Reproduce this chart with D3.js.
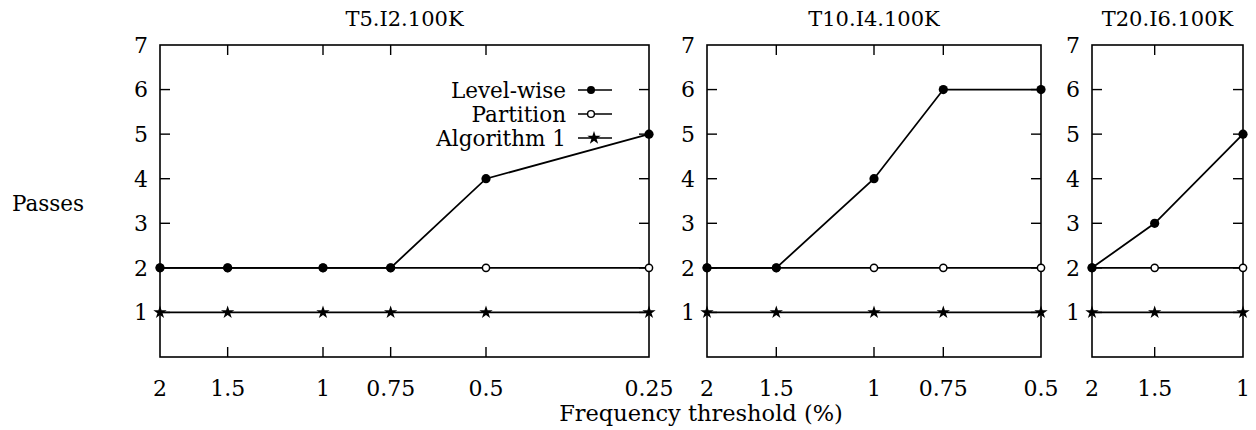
<!DOCTYPE html>
<html>
<head>
<meta charset="utf-8">
<script src="https://cdn.jsdelivr.net/npm/d3@7"></script>
<style>
  body { margin: 0; background: #fff; }
  text { font-family: 'DejaVu Serif', serif; fill: #000; }
</style>
</head>
<body>
<div id="wrapper"></div>
<script>
const seriesNames = ['Level-wise', 'Partition', 'Algorithm 1']
const panelTitles = ['T5.I2.100K', 'T10.I4.100K', 'T20.I6.100K']

const thresholds1 = [2, 1.5, 1, 0.75, 0.5, 0.25]
const levelwise1 = [2, 2, 2, 2, 4, 5]
const partition1 = [2, 2, 2, 2, 2, 2]
const algorithm1 = [1, 1, 1, 1, 1, 1]

const thresholds2 = [2, 1.5, 1, 0.75, 0.5]
const levelwise2 = [2, 2, 4, 6, 6]
const partition2 = [2, 2, 2, 2, 2]
const algorithm2 = [1, 1, 1, 1, 1]

const thresholds3 = [2, 1.5, 1]
const levelwise3 = [2, 3, 5]
const partition3 = [2, 2, 2]
const algorithm3 = [1, 1, 1]

const yTicks = [1, 2, 3, 4, 5, 6, 7]

const panels = [
    { title: panelTitles[0], x: thresholds1, lw: levelwise1, pa: partition1, al: algorithm1, left: 160, right: 649 },
    { title: panelTitles[1], x: thresholds2, lw: levelwise2, pa: partition2, al: algorithm2, left: 707, right: 1041 },
    { title: panelTitles[2], x: thresholds3, lw: levelwise3, pa: partition3, al: algorithm3, left: 1092, right: 1243 }
]

const dimensions = { width: 1256, height: 430, top: 45, bottom: 357 }
const tickLen = 10

const svg = d3.select('#wrapper')
    .append('svg')
    .attr('width', dimensions.width)
    .attr('height', dimensions.height)

const yScale = d3.scaleLinear()
    .domain([0, 7])
    .range([dimensions.bottom, dimensions.top])

const star = d3.symbol().type(d3.symbolStar).size(55)

panels.forEach((p, pi) => {
    const xScale = d3.scaleLog()
        .domain([p.x[0], p.x[p.x.length - 1]])
        .range([p.left, p.right])

    const g = svg.append('g')

    // frame
    g.append('rect')
        .attr('x', p.left).attr('y', dimensions.top)
        .attr('width', p.right - p.left)
        .attr('height', dimensions.bottom - dimensions.top)
        .attr('fill', 'none').attr('stroke', '#000').attr('stroke-width', 1.6)

    // inner x ticks top and bottom
    const inner = p.x.slice(1, -1)
    g.append('g').selectAll('line').data(inner).join('line')
        .attr('x1', d => xScale(d)).attr('x2', d => xScale(d))
        .attr('y1', dimensions.bottom).attr('y2', dimensions.bottom - tickLen)
        .attr('stroke', '#000').attr('stroke-width', 1.4)
    g.append('g').selectAll('line').data(inner).join('line')
        .attr('x1', d => xScale(d)).attr('x2', d => xScale(d))
        .attr('y1', dimensions.top).attr('y2', dimensions.top + tickLen)
        .attr('stroke', '#000').attr('stroke-width', 1.4)

    // y ticks left and right
    const ys = yTicks.slice(0, -1)
    g.append('g').selectAll('line').data(ys).join('line')
        .attr('x1', p.left).attr('x2', p.left + tickLen)
        .attr('y1', d => yScale(d)).attr('y2', d => yScale(d))
        .attr('stroke', '#000').attr('stroke-width', 1.4)
    g.append('g').selectAll('line').data(ys).join('line')
        .attr('x1', p.right).attr('x2', p.right - tickLen)
        .attr('y1', d => yScale(d)).attr('y2', d => yScale(d))
        .attr('stroke', '#000').attr('stroke-width', 1.4)

    // tick labels
    g.append('g').selectAll('text').data(yTicks).join('text')
        .attr('x', p.left - 12)
        .attr('y', d => yScale(d))
        .attr('dy', '0.36em')
        .attr('text-anchor', 'end')
        .style('font-size', '22px')
        .text(d => d)
    g.append('g').selectAll('text').data(p.x).join('text')
        .attr('x', d => xScale(d))
        .attr('y', 396)
        .attr('text-anchor', 'middle')
        .style('font-size', '22px')
        .text(d => d)

    g.append('text')
        .attr('x', (p.left + p.right) / 2)
        .attr('y', 26)
        .attr('text-anchor', 'middle')
        .style('font-size', '21px')
        .text(p.title)

    const pts = arr => p.x.map((x, i) => [x, arr[i]])
    const line = d3.line().x(d => xScale(d[0])).y(d => yScale(d[1]))

    ;[p.al, p.pa, p.lw].forEach(arr => {
        g.append('path')
            .attr('d', line(pts(arr)))
            .attr('fill', 'none').attr('stroke', '#000').attr('stroke-width', 1.8)
    })

    g.append('g').selectAll('path').data(pts(p.al)).join('path')
        .attr('transform', d => `translate(${xScale(d[0])},${yScale(d[1])})`)
        .attr('d', star).attr('fill', '#000')

    g.append('g').selectAll('circle').data(pts(p.pa)).join('circle')
        .attr('cx', d => xScale(d[0])).attr('cy', d => yScale(d[1]))
        .attr('r', 3.6).attr('fill', '#fff').attr('stroke', '#000').attr('stroke-width', 1.5)

    g.append('g').selectAll('circle').data(pts(p.lw)).join('circle')
        .attr('cx', d => xScale(d[0])).attr('cy', d => yScale(d[1]))
        .attr('r', 4.6).attr('fill', '#000')

    // legend in first panel
    if (pi === 0) {
        const legendY = [90, 114, 138]
        const leg = g.append('g')
        seriesNames.forEach((name, i) => {
            const yy = legendY[i]
            leg.append('text')
                .attr('x', 566).attr('y', yy)
                .attr('dy', '0.36em')
                .attr('text-anchor', 'end')
                .style('font-size', '21.5px')
                .text(name)
            leg.append('line')
                .attr('x1', 578).attr('x2', 612)
                .attr('y1', yy).attr('y2', yy)
                .attr('stroke', '#000').attr('stroke-width', 1.6)
            if (i === 0) {
                leg.append('circle').attr('cx', 591).attr('cy', yy).attr('r', 4).attr('fill', '#000')
            } else if (i === 1) {
                leg.append('circle').attr('cx', 591).attr('cy', yy).attr('r', 3.4)
                    .attr('fill', '#fff').attr('stroke', '#000').attr('stroke-width', 1.4)
            } else {
                leg.append('path').attr('transform', `translate(594,${yy})`).attr('d', star).attr('fill', '#000')
            }
        })
    }
})

svg.append('text')
    .attr('x', 48).attr('y', 203)
    .attr('dy', '0.36em')
    .attr('text-anchor', 'middle')
    .style('font-size', '21.5px')
    .text('Passes')

svg.append('text')
    .attr('x', 701).attr('y', 421)
    .attr('text-anchor', 'middle')
    .style('font-size', '22.5px')
    .text('Frequency threshold (%)')
</script>
</body>
</html>
